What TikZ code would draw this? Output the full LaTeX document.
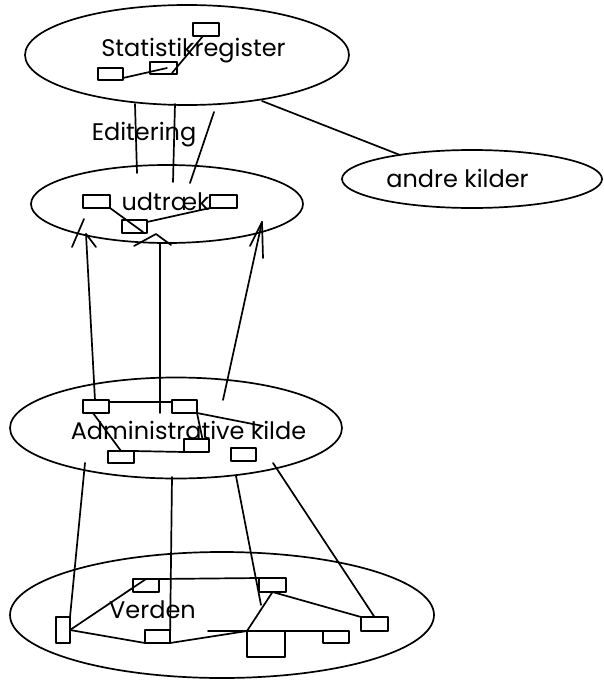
\documentclass[tikz,border=0pt]{standalone}
\usepackage{fontspec}
\setmainfont{Poppins}
\usetikzlibrary{shapes.geometric}
\begin{document}
\begin{tikzpicture}[x=1pt,y=-1pt,
  ln/.style={line width=1.7pt, line cap=round, line join=round},
  oval/.style={ln, draw, ellipse, inner sep=0pt, outer sep=0pt},
  bx/.style={ln, draw, rectangle, inner sep=0pt, outer sep=0pt},
  lbl/.style={anchor=base, inner sep=0pt, font=\fontsize{24}{28}\selectfont}]
\useasboundingbox (0,0) rectangle (603,680);

% ellipses
\node[oval, minimum width=324pt, minimum height=100pt] (SR) at (187,55) {};
\node[oval, minimum width=272pt, minimum height=78pt]  (UD) at (167,204) {};
\node[oval, minimum width=260pt, minimum height=58pt]  (AK) at (472,179) {};
\node[oval, minimum width=332pt, minimum height=101pt] (AD) at (176,428) {};
\node[oval, minimum width=424pt, minimum height=126pt] (VE) at (222,615) {};

% labels
\node[lbl] (tSR) at (193.5,56) {Statistikregister};
\node[lbl] (tED) at (144,140) {Editering};
\node[lbl] (tUD) at (165.5,210) {udtræk};
\node[lbl] (tAK) at (457.5,187) {andre kilder};
\node[lbl] (tAD) at (188.5,439) {Administrative kilde};
\node[lbl] (tVE) at (152.5,618) {Verden};

% small boxes
\node[bx, minimum width=25pt, minimum height=12pt] (S1) at (110.5,74) {};
\node[bx, minimum width=27pt, minimum height=12pt] (S2) at (163.5,68) {};
\node[bx, minimum width=26pt, minimum height=13pt] (S3) at (206,29.5) {};
\node[bx, minimum width=27pt, minimum height=13pt] (U1) at (96.5,201.5) {};
\node[bx, minimum width=27pt, minimum height=13pt] (U2) at (223.5,201.5) {};
\node[bx, minimum width=25pt, minimum height=13pt] (U3) at (134.5,226.5) {};
\node[bx, minimum width=26pt, minimum height=13pt] (A1) at (96,406.5) {};
\node[bx, minimum width=25pt, minimum height=13pt] (A2) at (184.5,406.5) {};
\node[bx, minimum width=26pt, minimum height=12pt] (A3) at (121,457) {};
\node[bx, minimum width=25pt, minimum height=13pt] (A4) at (196.5,445.5) {};
\node[bx, minimum width=25pt, minimum height=13pt] (A5) at (243.5,454.5) {};
\node[bx, minimum width=14pt, minimum height=26pt] (V1) at (63,630) {};
\node[bx, minimum width=26pt, minimum height=13pt] (V2) at (146,585.5) {};
\node[bx, minimum width=25pt, minimum height=13pt] (V3) at (157.5,636.5) {};
\node[bx, minimum width=27pt, minimum height=14pt] (V4) at (272.5,585) {};
\node[bx, minimum width=38pt, minimum height=26pt] (V5) at (266,644) {};
\node[bx, minimum width=26pt, minimum height=12pt] (V6) at (336,637) {};
\node[bx, minimum width=27pt, minimum height=14pt] (V7) at (374.5,624) {};

% free line ends
\coordinate (s1r) at (123,78);
\coordinate (s2a) at (167,68);
\coordinate (s3b) at (203,36);
\coordinate (s2b) at (172,73);
\coordinate (e1a) at (135,104);  \coordinate (e1b) at (137,173);
\coordinate (e2a) at (175,104);  \coordinate (e2b) at (173,182);
\coordinate (e3a) at (214,112);  \coordinate (e3b) at (190,183);
\coordinate (ak1) at (262,101);  \coordinate (ak2) at (400,155);
\coordinate (u3a) at (143,232);  \coordinate (u3b) at (147,222);
% arrows into udtraek
\coordinate (la) at (86,234);   \coordinate (lb) at (95,400);
\coordinate (la1) at (72,247);  \coordinate (la2) at (84,219);
\coordinate (la3) at (96,247);
\coordinate (ma) at (160,244);  \coordinate (mb) at (160,413);
\coordinate (mh1) at (134,246); \coordinate (mh2) at (156,234); \coordinate (mh3) at (171,245);
\coordinate (ra) at (262,222);  \coordinate (rb) at (223,400);
\coordinate (ra1) at (250,246); \coordinate (ra2) at (263,258);
% administrative kilde
\coordinate (akk) at (263,426);
% down to Verden
\coordinate (d1) at (85,463);
\coordinate (d2) at (172,477);
\coordinate (d3) at (236,476);  \coordinate (d3e) at (261,605);
\coordinate (d4) at (273,463);
\coordinate (vh) at (208,631);

% Statistikregister internals
\draw[ln] (s1r) -- (s2a);
\draw[ln] (s3b) -- (s2b);
% Editering
\draw[ln] (e1a) -- (e1b);
\draw[ln] (e2a) -- (e2b);
\draw[ln] (e3a) -- (e3b);
% andre kilder
\draw[ln] (ak1) -- (ak2);
% udtraek internals
\draw[ln] (U1.south east) -- (u3a);
\draw[ln] (U2.south west) -- (u3b);
% arrows up to udtraek
\draw[ln] (la) -- (lb);
\draw[ln] (la1) -- (la2);
\draw[ln] (la) -- (la3);
\draw[ln] (ma) -- (mb);
\draw[ln] (mh1) -- (mh2) -- (mh3);
\draw[ln] (ra) -- (rb);
\draw[ln] (ra1) -- (ra);
\draw[ln] (ra) -- (ra2);
% administrative kilde internals
\draw[ln] ([yshift=-2pt]A1.north east) -- ([yshift=-2pt]A2.north west);
\draw[ln] ([xshift=-3pt]A1.south) -- (A3.north);
\draw[ln] (A3.north east) -- (A4.south west);
\draw[ln] (A2.south east) -- ([xshift=6pt]A4.north);
\draw[ln] (A2.south east) -- (akk);
% down to Verden
\draw[ln] (d1) -- (V1.north east);
\draw[ln] (d2) -- (V3.south east);
\draw[ln] (d3) -- (d3e);
\draw[ln] (d4) -- (V7.north);
% Verden internals
\draw[ln] (V2.north east) -- (V4.north west);
\draw[ln] (V1.east) -- (V2.north);
\draw[ln] (V1.east) -- (V3.south west);
\draw[ln] (V3.south east) -- (V5.north west);
\draw[ln] (vh) -- (V5.north west);
\draw[ln] (V5.north east) -- (V6.north west);
\draw[ln] (V5.north west) -- (V4.south);
\draw[ln] (V4.south) -- (V7.north west);
\end{tikzpicture}
\end{document}
